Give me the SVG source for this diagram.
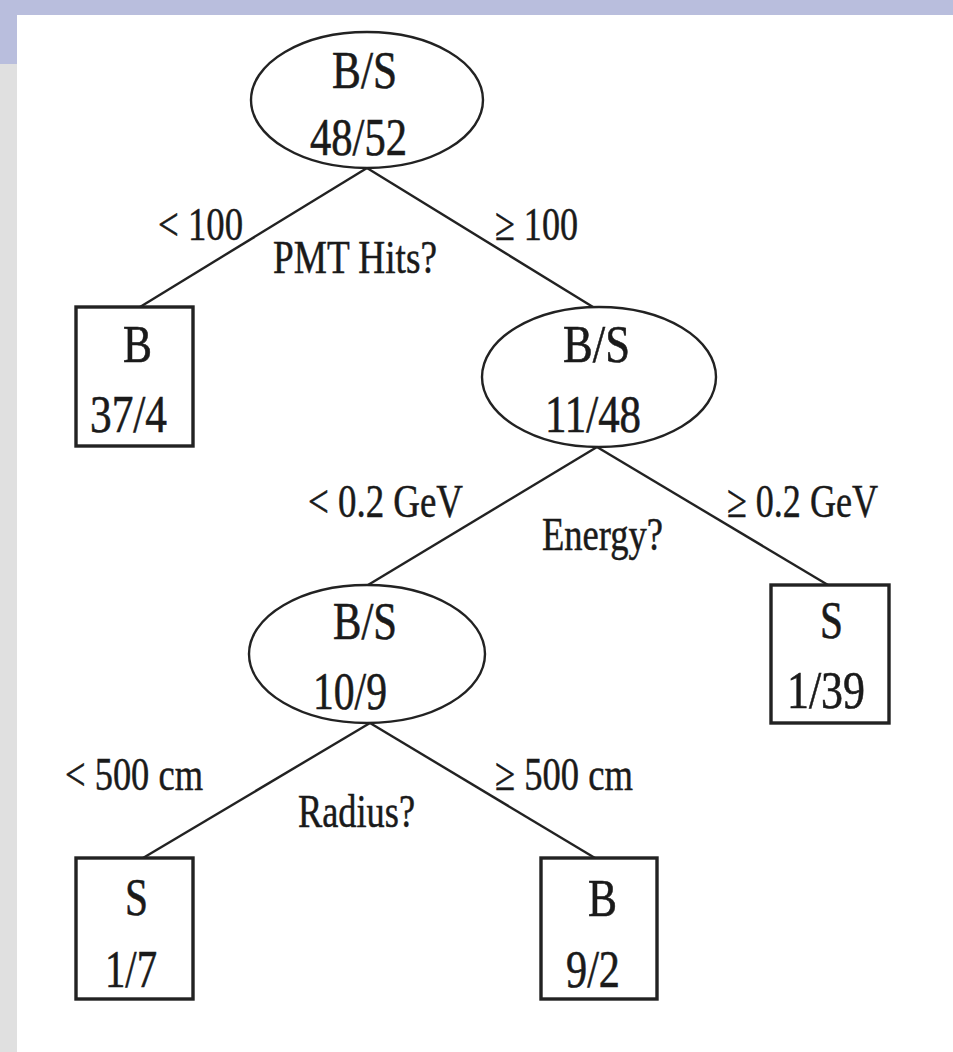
<svg xmlns="http://www.w3.org/2000/svg" width="953" height="1052" viewBox="0 0 953 1052">
<style>
.bg{fill:#ffffff}
.band{fill:#b9bedd}
.strip{fill:#e0e0e0}
.ell{fill:none;stroke:#222;stroke-width:2.4}
.box{fill:none;stroke:#222;stroke-width:3.4}
.edge{stroke:#222;stroke-width:2.4;fill:none}
.nt{font-family:"Liberation Serif","Times New Roman",serif;font-size:53px;fill:#1a1a1a;stroke:#1a1a1a;stroke-width:0.6}
.lt{font-family:"Liberation Serif","Times New Roman",serif;font-size:47px;fill:#1a1a1a;stroke:#1a1a1a;stroke-width:0.5}
</style>
<rect class="bg" x="0" y="0" width="953" height="1052"/>
<rect class="band" x="0" y="0" width="953" height="15"/>
<rect class="strip" x="0" y="15" width="17" height="1037"/>
<rect class="band" x="0" y="0" width="17" height="64"/>

<g id="connectors">
<line class="edge" x1="367" y1="168" x2="140" y2="307"/>
<line class="edge" x1="367" y1="168" x2="593" y2="307"/>
<line class="edge" x1="597" y1="447" x2="368" y2="585"/>
<line class="edge" x1="597" y1="447" x2="828" y2="585"/>
<line class="edge" x1="370" y1="723" x2="143" y2="858"/>
<line class="edge" x1="370" y1="723" x2="595" y2="858"/>
<text class="lt" x="158" y="240" textLength="85" lengthAdjust="spacingAndGlyphs">&lt; 100</text>
<text class="lt" x="273" y="273" textLength="164" lengthAdjust="spacingAndGlyphs">PMT Hits?</text>
<text class="lt" x="495" y="240" textLength="83" lengthAdjust="spacingAndGlyphs">≥ 100</text>
<text class="lt" x="308" y="517" textLength="155" lengthAdjust="spacingAndGlyphs">&lt; 0.2 GeV</text>
<text class="lt" x="727" y="517" textLength="151" lengthAdjust="spacingAndGlyphs">≥ 0.2 GeV</text>
<text class="lt" x="542" y="550" textLength="121" lengthAdjust="spacingAndGlyphs">Energy?</text>
<text class="lt" x="65" y="790" textLength="138" lengthAdjust="spacingAndGlyphs">&lt; 500 cm</text>
<text class="lt" x="495" y="790" textLength="138" lengthAdjust="spacingAndGlyphs">≥ 500 cm</text>
<text class="lt" x="298" y="827" textLength="117" lengthAdjust="spacingAndGlyphs">Radius?</text>
</g>

<g id="root">
<ellipse class="ell" cx="367" cy="100" rx="116" ry="68"/>
<text class="nt" x="332" y="88" textLength="65" lengthAdjust="spacingAndGlyphs">B/S</text>
<text class="nt" x="310" y="155" textLength="97" lengthAdjust="spacingAndGlyphs">48/52</text>
</g>

<g id="leaf-b1">
<rect class="box" x="76" y="307" width="117" height="139"/>
<text class="nt" x="123" y="362" textLength="29" lengthAdjust="spacingAndGlyphs">B</text>
<text class="nt" x="90" y="432" textLength="77" lengthAdjust="spacingAndGlyphs">37/4</text>
</g>

<g id="node-energy">
<ellipse class="ell" cx="599" cy="377" rx="117" ry="70"/>
<text class="nt" x="563" y="362" textLength="67" lengthAdjust="spacingAndGlyphs">B/S</text>
<text class="nt" x="545" y="432" textLength="96" lengthAdjust="spacingAndGlyphs">11/48</text>
</g>

<g id="leaf-s1">
<rect class="box" x="771" y="585" width="118" height="138"/>
<text class="nt" x="820" y="638" textLength="23" lengthAdjust="spacingAndGlyphs">S</text>
<text class="nt" x="787" y="708" textLength="78" lengthAdjust="spacingAndGlyphs">1/39</text>
</g>

<g id="node-radius">
<ellipse class="ell" cx="367" cy="654" rx="118" ry="69"/>
<text class="nt" x="333" y="639" textLength="64" lengthAdjust="spacingAndGlyphs">B/S</text>
<text class="nt" x="313" y="709" textLength="74" lengthAdjust="spacingAndGlyphs">10/9</text>
</g>

<g id="leaf-s2">
<rect class="box" x="76" y="858" width="117" height="141"/>
<text class="nt" x="125" y="915" textLength="23" lengthAdjust="spacingAndGlyphs">S</text>
<text class="nt" x="105" y="987" textLength="52" lengthAdjust="spacingAndGlyphs">1/7</text>
</g>

<g id="leaf-b2">
<rect class="box" x="541" y="858" width="116" height="141"/>
<text class="nt" x="588" y="916" textLength="29" lengthAdjust="spacingAndGlyphs">B</text>
<text class="nt" x="566" y="987" textLength="54" lengthAdjust="spacingAndGlyphs">9/2</text>
</g>
</svg>
